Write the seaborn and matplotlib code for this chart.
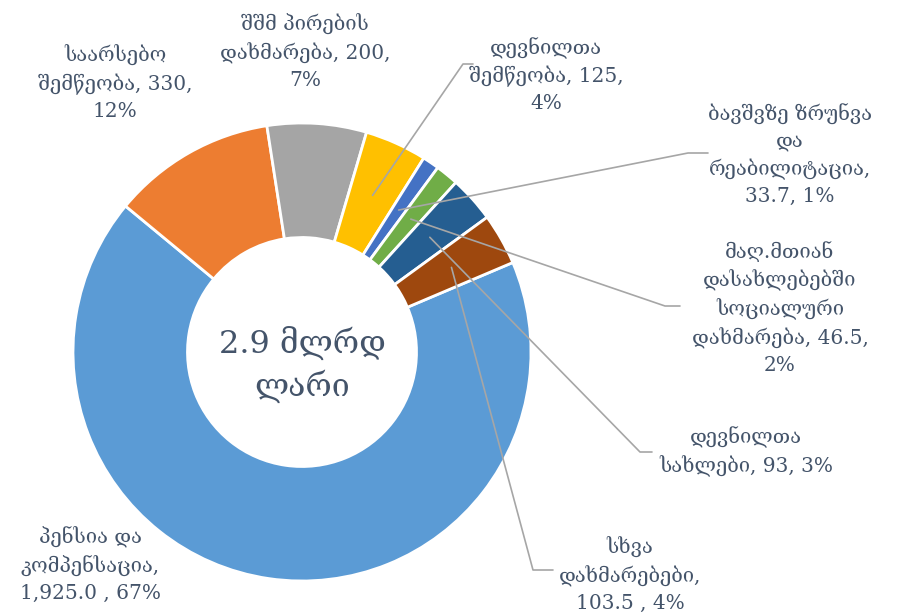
import numpy as np
import matplotlib
matplotlib.use('Agg')
import matplotlib.pyplot as plt
import seaborn as sns

# budget items (mln GEL), Excel order
labels = [
    'პენსია და\nკომპენსაცია,\n1,925.0 , 67%',
    'საარსებო\nშემწეობა, 330,\n12%',
    'შშმ პირების\nდახმარება, 200,\n7%',
    'დევნილთა\nშემწეობა, 125,\n4%',
    'ბავშვზე ზრუნვა\nდა\nრეაბილიტაცია,\n33.7, 1%',
    'მაღ.მთიან\nდასახლებებში\nსოციალური\nდახმარება, 46.5,\n2%',
    'დევნილთა\nსახლები, 93, 3%',
    'სხვა\nდახმარებები,\n103.5 , 4%',
]
values = [1925.0, 330, 200, 125, 33.7, 46.5, 93, 103.5]
colors = ['#5B9BD5', '#ED7D31', '#A5A5A5', '#FFC000',
          '#4472C4', '#70AD47', '#255E91', '#9E480E']
center_text = '2.9 მლრდ\nლარი'

W, H = 897, 616
TXT = '#44546A'
LINE = '#A6A6A6'

sns.set_theme(style='white')
plt.rcParams['font.family'] = ['DejaVu Serif', 'DejaVu Sans']

fig = plt.figure(figsize=(W / 100, H / 100), dpi=100)
ax = fig.add_axes([0, 0, 1, 1])

cx, cy, R = 302, H - 352, 229
hole = 0.5
wedges, _ = ax.pie(values, colors=colors, startangle=23, counterclock=False,
                   center=(cx, cy), radius=R,
                   wedgeprops=dict(width=R * (1 - hole), edgecolor='white', linewidth=2))

# pie() resets the limits, so set them afterwards
ax.set_xlim(0, W)
ax.set_ylim(0, H)
ax.set_aspect('equal')
ax.axis('off')

ax.text(cx, H - 365, center_text, ha='center', va='center', fontsize=23,
        color=TXT, linespacing=1.3)

# label positions (pixel coords from top) and leader stubs
label_pos = [(90, 565), (115, 83), (305, 52), (546, 75),
             (790, 155), (780, 308), (746, 452), (630, 575)]
stubs = {3: (473, 64, -10), 4: (708, 153, -20), 5: (680, 306, -15),
         6: (652, 452, -12), 7: (553, 570, -20)}

for i, (lab, (px, py)) in enumerate(zip(labels, label_pos)):
    ax.text(px, H - py, lab, ha='center', va='center', fontsize=14.5,
            color=TXT, linespacing=1.45)
    if i in stubs:
        w = wedges[i]
        mid = np.deg2rad((w.theta1 + w.theta2) / 2)
        rr = R * (1 + hole) / 2
        wx, wy = cx + rr * np.cos(mid), cy + rr * np.sin(mid)
        sx, sy, d = stubs[i]
        ax.plot([wx, sx + d, sx], [wy, H - sy, H - sy], color=LINE, lw=1.2)

fig.savefig('out.png', dpi=100)
